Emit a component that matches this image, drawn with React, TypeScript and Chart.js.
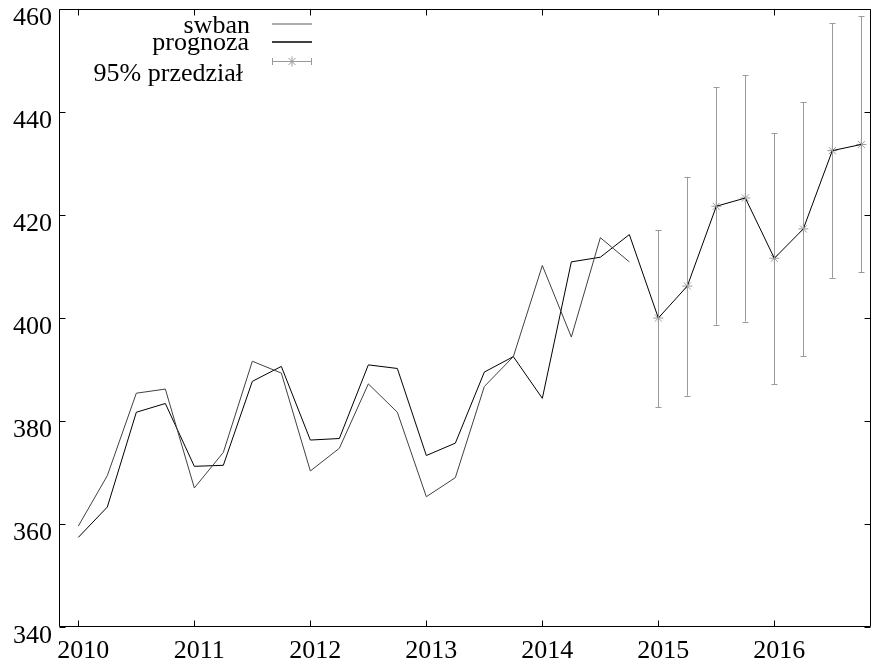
import React, { useEffect, useRef } from 'react';
import { Chart, registerables } from 'chart.js';

Chart.register(...registerables);

// ---- data ----
const swbanQuarters = [
  2010, 2010.25, 2010.5, 2010.75,
  2011, 2011.25, 2011.5, 2011.75,
  2012, 2012.25, 2012.5, 2012.75,
  2013, 2013.25, 2013.5, 2013.75,
  2014, 2014.25, 2014.5, 2014.75,
];
const swban = [
  359.6, 369.4, 385.4, 386.2,
  367.0, 373.9, 391.6, 389.3,
  370.3, 374.7, 387.2, 381.7,
  365.3, 369.0, 386.7, 392.5,
  410.2, 396.3, 415.6, 410.9,
];

const prognozaQuarters = [
  2010, 2010.25, 2010.5, 2010.75,
  2011, 2011.25, 2011.5, 2011.75,
  2012, 2012.25, 2012.5, 2012.75,
  2013, 2013.25, 2013.5, 2013.75,
  2014, 2014.25, 2014.5, 2014.75,
  2015, 2015.25, 2015.5, 2015.75,
  2016, 2016.25, 2016.5, 2016.75,
];
const prognoza = [
  357.4, 363.3, 381.7, 383.4,
  371.2, 371.4, 387.7, 390.6,
  376.3, 376.6, 390.9, 390.2,
  373.3, 375.7, 389.5, 392.5,
  384.4, 410.9, 411.8, 416.2,
  400.0, 406.2, 421.7, 423.3,
  411.6, 417.3, 432.5, 433.7,
];

const forecastQuarters = [2015, 2015.25, 2015.5, 2015.75, 2016, 2016.25, 2016.5, 2016.75];
const forecast = [400.0, 406.2, 421.7, 423.3, 411.6, 417.3, 432.5, 433.7];
const lower95 = [382.7, 384.9, 398.7, 399.3, 387.1, 392.6, 407.8, 408.9];
const upper95 = [417.1, 427.4, 444.8, 447.2, 435.9, 441.9, 457.2, 458.6];

const yearTicks = [2010, 2011, 2012, 2013, 2014, 2015, 2016];
const valueTicks = [340, 360, 380, 400, 420, 440, 460];

const seriesNames = ['swban', 'prognoza', '95% przedział'];

const FONT = '"Liberation Serif", "Times New Roman", serif';
const SWBAN_COLOR = '#404040';
const PROG_COLOR = '#000000';
const ERR_COLOR = '#9a9a9a';

Chart.defaults.font.family = FONT;
Chart.defaults.font.size = 26;
Chart.defaults.color = '#000';

const errorBarPlugin = {
  id: 'errorBars',
  afterDatasetsDraw(chart: any) {
    const { ctx, scales } = chart;
    const xs = scales.x;
    const ys = scales.y;
    ctx.save();
    ctx.strokeStyle = ERR_COLOR;
    ctx.lineWidth = 1;
    for (let i = 0; i < forecastQuarters.length; i++) {
      const px = Math.round(xs.getPixelForValue(forecastQuarters[i])) + 0.5;
      const pLo = ys.getPixelForValue(lower95[i]);
      const pHi = ys.getPixelForValue(upper95[i]);
      ctx.beginPath();
      ctx.moveTo(px, pLo);
      ctx.lineTo(px, pHi);
      ctx.moveTo(px - 3, Math.round(pLo) + 0.5);
      ctx.lineTo(px + 3, Math.round(pLo) + 0.5);
      ctx.moveTo(px - 3, Math.round(pHi) + 0.5);
      ctx.lineTo(px + 3, Math.round(pHi) + 0.5);
      ctx.stroke();
    }
    ctx.restore();
  },
};

const framePlugin = {
  id: 'frame',
  afterDraw(chart: any) {
    const { ctx, chartArea, scales } = chart;
    const { left, right, top, bottom } = chartArea;
    ctx.save();
    ctx.strokeStyle = '#000';
    ctx.lineWidth = 1;
    const L = Math.round(left) + 0.5;
    const R = Math.round(right) - 0.5;
    const T = Math.round(top) + 0.5;
    const B = Math.round(bottom) - 0.5;
    ctx.beginPath();
    ctx.rect(L, T, R - L, B - T);
    const tl = 6;
    for (const v of yearTicks) {
      const px = Math.round(scales.x.getPixelForValue(v)) + 0.5;
      ctx.moveTo(px, B);
      ctx.lineTo(px, B - tl);
      ctx.moveTo(px, T);
      ctx.lineTo(px, T + tl);
    }
    for (const v of valueTicks) {
      const py = Math.round(scales.y.getPixelForValue(v)) + 0.5;
      ctx.moveTo(L, py);
      ctx.lineTo(L + tl, py);
      ctx.moveTo(R, py);
      ctx.lineTo(R - tl, py);
    }
    ctx.stroke();

    // legend (gnuplot style: right-aligned text, sample to the right)
    ctx.font = `26px ${FONT}`;
    ctx.fillStyle = '#000';
    ctx.textAlign = 'right';
    ctx.textBaseline = 'alphabetic';
    ctx.fillText(seriesNames[0], 250, 33);
    ctx.fillText(seriesNames[1], 249, 50);
    ctx.fillText(seriesNames[2], 243, 81);

    const sx0 = 272;
    const sx1 = 312;
    ctx.lineWidth = 1.5;
    ctx.strokeStyle = '#909090';
    ctx.beginPath();
    ctx.moveTo(sx0, 24);
    ctx.lineTo(sx1, 24);
    ctx.stroke();
    ctx.strokeStyle = PROG_COLOR;
    ctx.beginPath();
    ctx.moveTo(sx0, 42);
    ctx.lineTo(sx1, 42);
    ctx.stroke();
    ctx.lineWidth = 1;
    ctx.strokeStyle = ERR_COLOR;
    ctx.beginPath();
    ctx.moveTo(sx0, 61.5);
    ctx.lineTo(sx1, 61.5);
    ctx.moveTo(sx0 + 0.5, 58);
    ctx.lineTo(sx0 + 0.5, 65);
    ctx.moveTo(sx1 - 0.5, 58);
    ctx.lineTo(sx1 - 0.5, 65);
    const cx = 292, cy = 61.5, r = 5;
    ctx.moveTo(cx - r, cy);
    ctx.lineTo(cx + r, cy);
    ctx.moveTo(cx, cy - r);
    ctx.lineTo(cx, cy + r);
    const d = r * Math.SQRT1_2;
    ctx.moveTo(cx - d, cy - d);
    ctx.lineTo(cx + d, cy + d);
    ctx.moveTo(cx - d, cy + d);
    ctx.lineTo(cx + d, cy - d);
    ctx.stroke();
    ctx.restore();
  },
};

export default function App() {
  const canvasRef = useRef<HTMLCanvasElement | null>(null);

  useEffect(() => {
    const canvas = canvasRef.current;
    if (!canvas) return;
    const chart = new Chart(canvas, {
      type: 'line',
      data: {
        datasets: [
          {
            label: seriesNames[0],
            data: swbanQuarters.map((x, i) => ({ x, y: swban[i] })),
            borderColor: SWBAN_COLOR,
            borderWidth: 1,
            pointRadius: 0,
            tension: 0,
            fill: false,
          },
          {
            label: seriesNames[1],
            data: prognozaQuarters.map((x, i) => ({ x, y: prognoza[i] })),
            borderColor: PROG_COLOR,
            borderWidth: 1,
            pointRadius: 0,
            tension: 0,
            fill: false,
          },
          {
            label: seriesNames[2],
            data: forecastQuarters.map((x, i) => ({ x, y: forecast[i] })),
            showLine: false,
            borderColor: ERR_COLOR,
            backgroundColor: ERR_COLOR,
            pointStyle: 'star',
            pointRadius: 5,
            pointBorderWidth: 1,
          },
        ],
      },
      options: {
        animation: false,
        responsive: false,
        devicePixelRatio: 1,
        layout: { autoPadding: false, padding: { left: 0, top: 9, right: 2, bottom: 0 } },
        plugins: {
          legend: { display: false },
          tooltip: { enabled: false },
        },
        scales: {
          x: {
            type: 'linear',
            min: 2010 - 1 / 6,
            max: 2016 + 5 / 6,
            border: { display: false },
            grid: { display: false, drawTicks: false },
            afterBuildTicks: (scale: any) => {
              scale.ticks = yearTicks.map((v) => ({ value: v }));
            },
            afterFit: (scale: any) => {
              scale.height = 38;
              scale.paddingLeft = 0;
              scale.paddingRight = 0;
              scale.paddingTop = 0;
              scale.paddingBottom = 0;
            },
            ticks: {
              autoSkip: false,
              maxRotation: 0,
              padding: 9,
              labelOffset: 5,
              color: '#000',
              font: { family: FONT, size: 26 },
              callback: (v: any) => String(v),
            },
          },
          y: {
            type: 'linear',
            min: 340,
            max: 460,
            border: { display: false },
            grid: { display: false, drawTicks: false },
            afterBuildTicks: (scale: any) => {
              scale.ticks = valueTicks.map((v) => ({ value: v }));
            },
            afterFit: (scale: any) => {
              scale.width = 59;
              scale.paddingLeft = 0;
              scale.paddingRight = 0;
              scale.paddingTop = 0;
              scale.paddingBottom = 0;
            },
            ticks: {
              padding: 7,
              labelOffset: 9,
              color: '#000',
              font: { family: FONT, size: 26 },
              callback: (v: any) => String(v),
            },
          },
        },
      },
      plugins: [errorBarPlugin, framePlugin],
    });
    return () => chart.destroy();
  }, []);

  return (
    <div style={{ position: 'fixed', left: 0, top: 0, width: 873, height: 665, background: '#fff' }}>
      <canvas ref={canvasRef} width={873} height={665} style={{ width: 873, height: 665, display: 'block' }} />
    </div>
  );
}
